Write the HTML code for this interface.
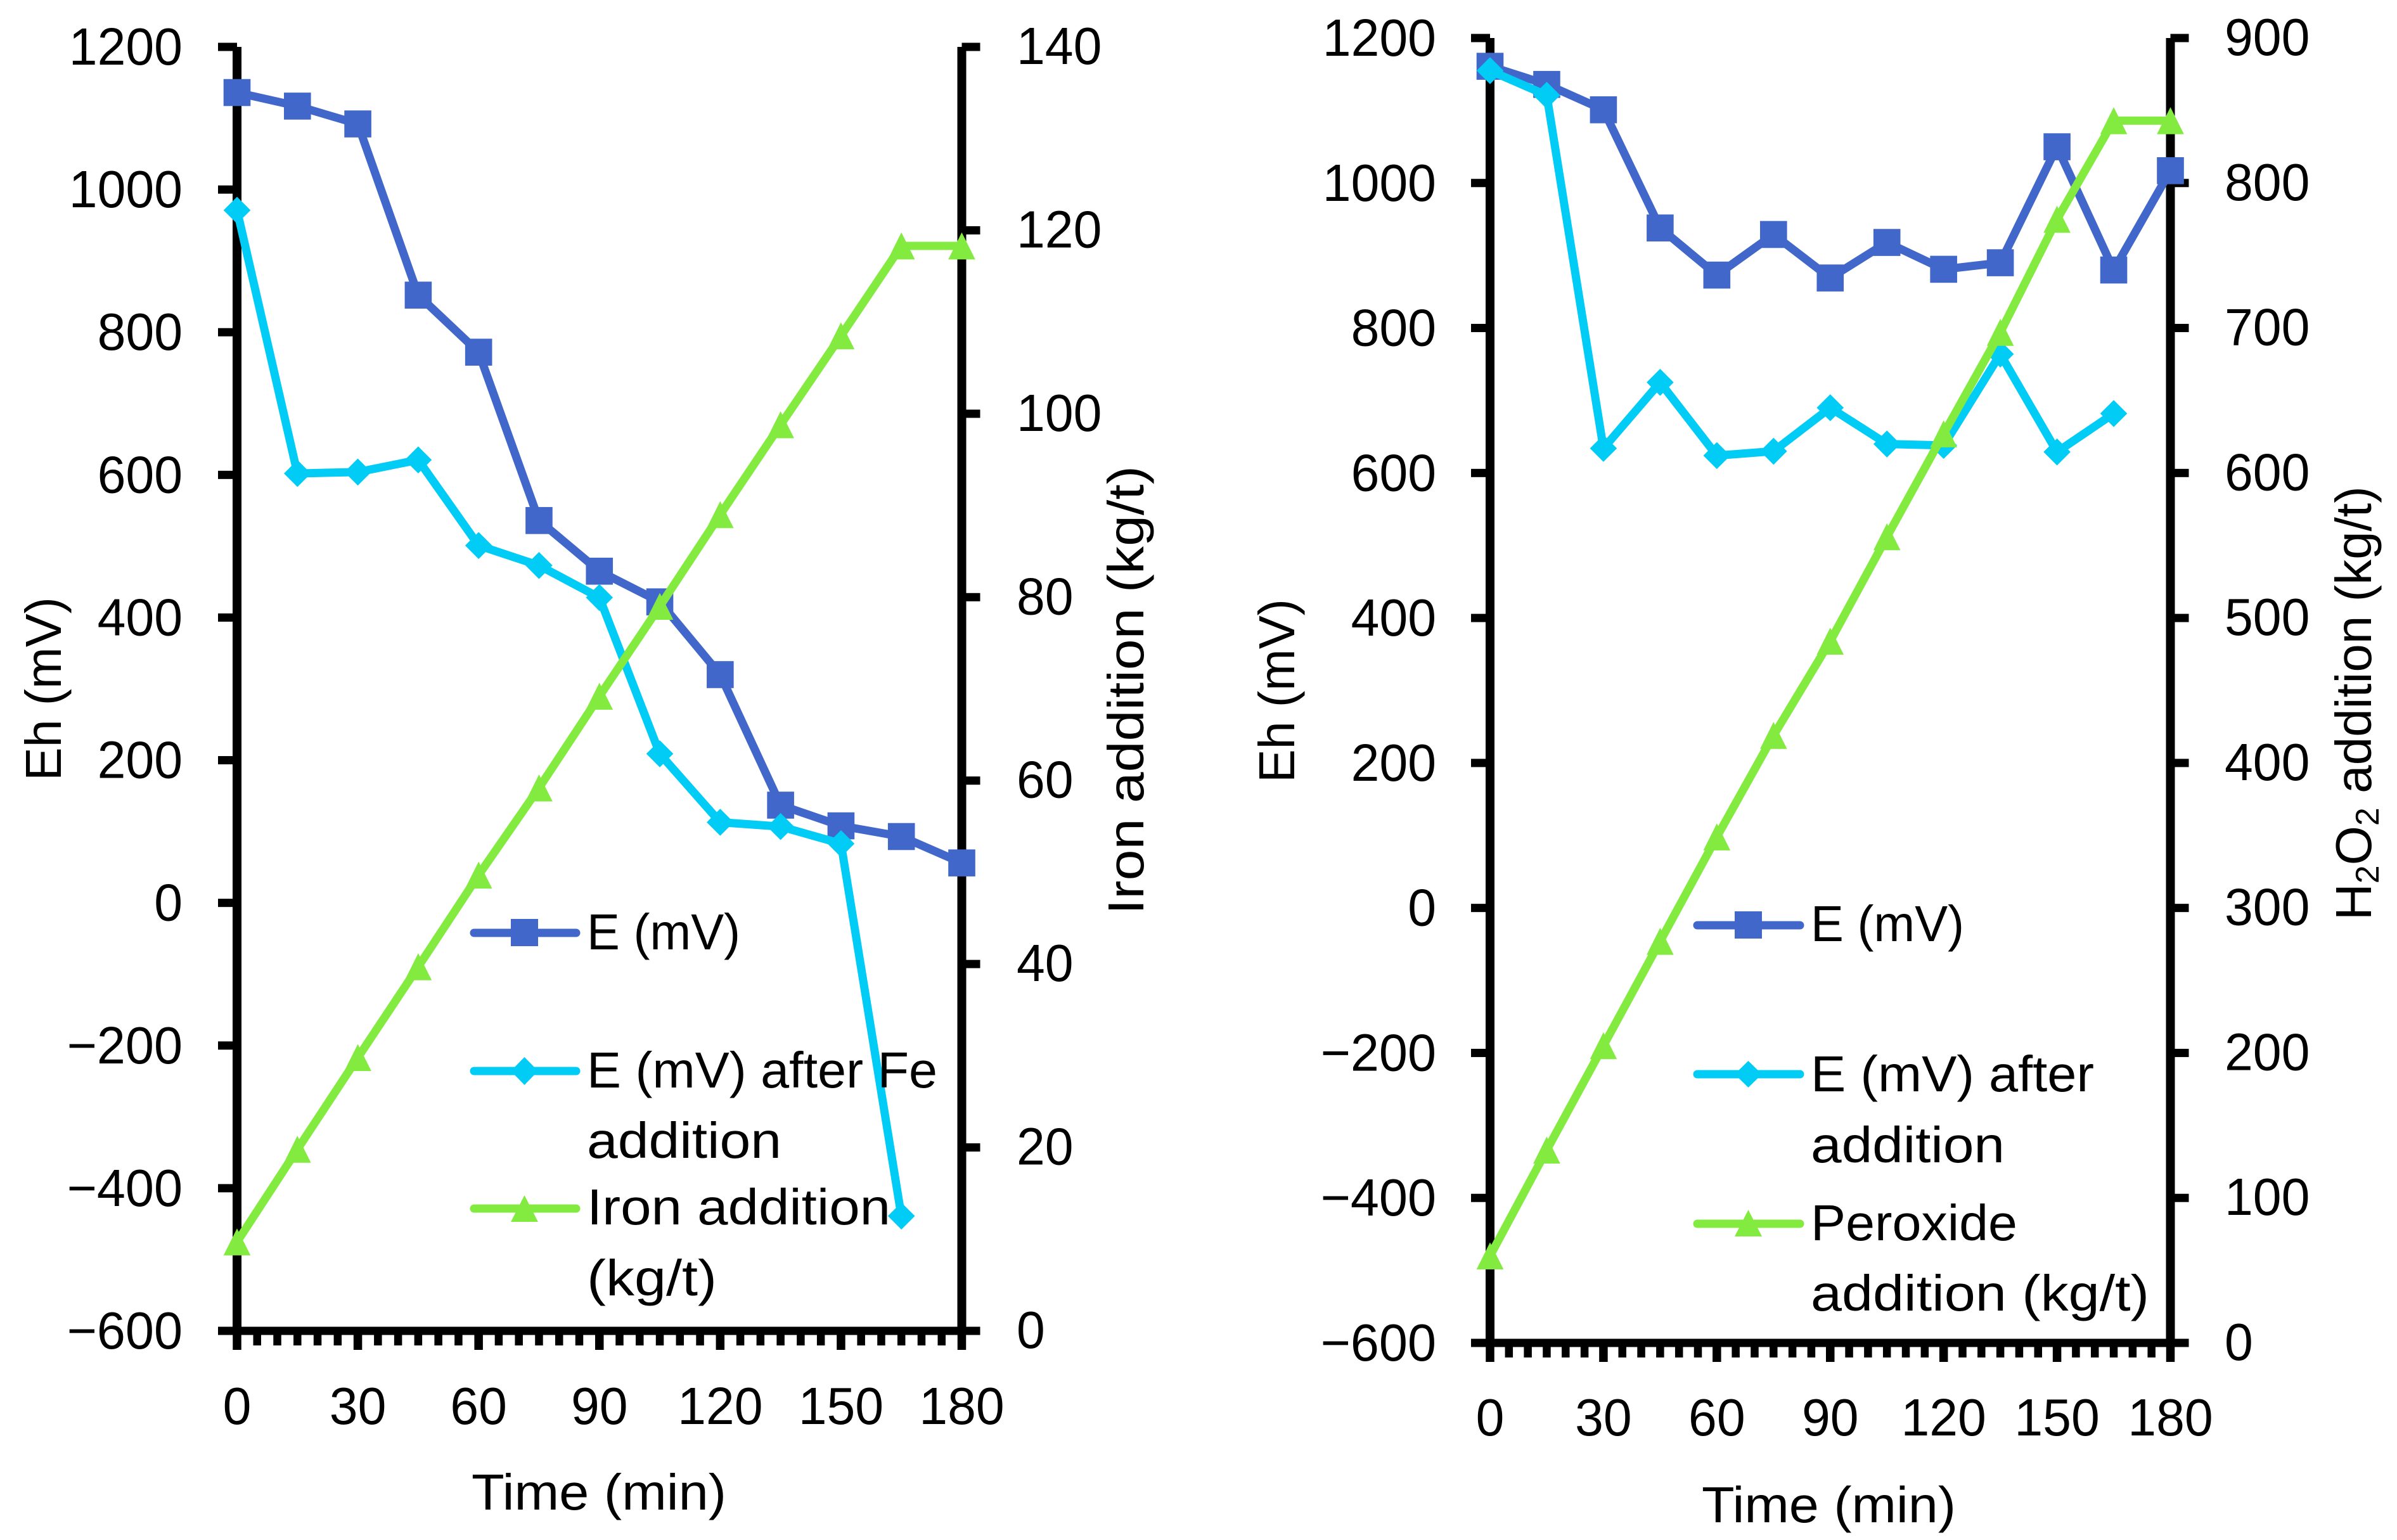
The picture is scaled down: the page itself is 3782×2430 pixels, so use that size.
<!DOCTYPE html>
<html lang="en">
<head>
<meta charset="utf-8">
<title>Eh and reagent addition over time</title>
<style>
html,body{margin:0;padding:0;background:#fff}
svg{display:block}
text{font-family:"Liberation Sans",sans-serif;font-size:80px;fill:#000}
text.tick{font-size:83px}
</style>
</head>
<body>
<svg id="figure" xmlns="http://www.w3.org/2000/svg" width="3782" height="2430" viewBox="0 0 3782 2430">
<rect x="0" y="0" width="3782" height="2430" fill="#fff"/>
<g id="left-chart"></g>
<g id="right-chart"></g>

<g>
<text x="744" y="2382" textLength="402" lengthAdjust="spacingAndGlyphs">Time (min)</text>
<text transform="translate(96,1232) rotate(-90)" textLength="290" lengthAdjust="spacingAndGlyphs">Eh (mV)</text>
<text transform="translate(1804,1443) rotate(-90)" textLength="708" lengthAdjust="spacingAndGlyphs">Iron addition (kg/t)</text>
</g>
<g>
<text x="2685" y="2402" textLength="401" lengthAdjust="spacingAndGlyphs">Time (min)</text>
<text transform="translate(2042,1235) rotate(-90)" textLength="290" lengthAdjust="spacingAndGlyphs">Eh (mV)</text>
<text transform="translate(3741,1452) rotate(-90)">H<tspan font-size="52" style="font-size:52px" dy="12">2</tspan><tspan dy="-12">O</tspan><tspan font-size="52" style="font-size:52px" dy="12">2</tspan><tspan dy="-12"> addition (kg/t)</tspan></text>
</g>

<g>
<g>
<line x1="748" y1="1472" x2="909" y2="1472" stroke="#4267CB" stroke-width="13" stroke-linecap="round"/>
<rect x="806" y="1450" width="43" height="43" fill="#4267CB"/>
<text x="926" y="1498" textLength="242" lengthAdjust="spacingAndGlyphs">E (mV)</text>
</g>
<g>
<line x1="748" y1="1690" x2="909" y2="1690" stroke="#00CCF6" stroke-width="13" stroke-linecap="round"/>
<polygon points="806,1690 827.5,1668 849,1690 827.5,1712" fill="#00CCF6"/>
<text x="926" y="1716" textLength="553" lengthAdjust="spacingAndGlyphs">E (mV) after Fe</text>
<text x="926" y="1827" textLength="307" lengthAdjust="spacingAndGlyphs">addition</text>
</g>
<g>
<line x1="748" y1="1907" x2="909" y2="1907" stroke="#83EB3F" stroke-width="13" stroke-linecap="round"/>
<polygon points="827.5,1886 849,1928 806,1928" fill="#83EB3F"/>
<text x="926" y="1932" textLength="479" lengthAdjust="spacingAndGlyphs">Iron addition</text>
<text x="926" y="2044" textLength="205" lengthAdjust="spacingAndGlyphs">(kg/t)</text>
</g>
</g>

<g>
<g>
<line x1="2678" y1="1460" x2="2840" y2="1460" stroke="#4267CB" stroke-width="13" stroke-linecap="round"/>
<rect x="2737" y="1438" width="43" height="43" fill="#4267CB"/>
<text x="2857" y="1485" textLength="242" lengthAdjust="spacingAndGlyphs">E (mV)</text>
</g>
<g>
<line x1="2678" y1="1695" x2="2840" y2="1695" stroke="#00CCF6" stroke-width="13" stroke-linecap="round"/>
<polygon points="2737,1695 2758.5,1674 2780,1695 2758.5,1716" fill="#00CCF6"/>
<text x="2857" y="1722" textLength="447" lengthAdjust="spacingAndGlyphs">E (mV) after</text>
<text x="2857" y="1834" textLength="306" lengthAdjust="spacingAndGlyphs">addition</text>
</g>
<g>
<line x1="2678" y1="1931" x2="2840" y2="1931" stroke="#83EB3F" stroke-width="13" stroke-linecap="round"/>
<polygon points="2758.5,1909 2780,1951 2737,1951" fill="#83EB3F"/>
<text x="2857" y="1957" textLength="326" lengthAdjust="spacingAndGlyphs">Peroxide</text>
<text x="2857" y="2068" textLength="534" lengthAdjust="spacingAndGlyphs">addition (kg/t)</text>
</g>
</g>
</svg>

<script>
// Shared axis tick labels
const eTicks = [1200, 1000, 800, 600, 400, 200, 0, -200, -400, -600];
const timeTicks = [0, 30, 60, 90, 120, 150, 180];
const ironTicks = [140, 120, 100, 80, 60, 40, 20, 0];
const peroxideTicks = [900, 800, 700, 600, 500, 400, 300, 200, 100, 0];

// Left chart values
const leftTimes = [0, 15, 30, 45, 60, 75, 90, 105, 120, 135, 150, 165, 180];
const leftE = [1136, 1117, 1092, 852, 772, 536, 465, 422, 320, 137, 108, 93, 56];
const leftEAfter = [971, 602, 604, 621, 501, 473, 428, 209, 113, 107, 83, -439];
const leftIron = [9.7, 19.8, 29.8, 39.7, 49.7, 59.2, 69.2, 79, 89, 98.8, 108.5, 118.3, 118.3];

// Right chart values
const rightTimes = [0, 15, 30, 45, 60, 75, 90, 105, 120, 135, 150, 165, 180];
const rightE = [1161, 1136, 1101, 938, 873, 929, 869, 918, 881, 890, 1050, 880, 1017];
const rightEAfter = [1155, 1121, 634, 725, 624, 630, 690, 640, 638, 764, 629, 682];
const rightPeroxide = [60, 133, 205, 277, 349, 419, 484, 556, 627, 697, 775, 843, 843];

const SVG_NS = 'http://www.w3.org/2000/svg';
const BLUE = '#4267CB';
const CYAN = '#00CCF6';
const GREEN = '#83EB3F';

function mk(parent, tag, attrs) {
  const node = document.createElementNS(SVG_NS, tag);
  for (const key in attrs) node.setAttribute(key, attrs[key]);
  parent.appendChild(node);
  return node;
}

function formatTick(v) {
  return v < 0 ? '\u2212' + Math.abs(v) : String(v);
}

function tickLength(v) {
  const digits = String(Math.abs(v)).length;
  return digits * 44.8 + (v < 0 ? 48 : 0);
}

function drawSeries(root, name, times, values, xScale, yScale, color, shape) {
  const group = mk(root, 'g', {});
  
  
  const pts = values.map(function (v, i) { return [xScale(times[i]), yScale(v)]; });
  const line = mk(group, 'polyline', {
    points: pts.map(function (p) { return p.join(','); }).join(' '),
    fill: 'none', stroke: color, 'stroke-width': 13, 'stroke-linejoin': 'round'
  });
  
  
  pts.forEach(function (p, i) {
    const r = 21.3;
    let mark;
    if (shape === 'square') {
      mark = mk(group, 'rect', { x: p[0] - r, y: p[1] - r, width: 2 * r, height: 2 * r, fill: color });
    } else if (shape === 'diamond') {
      mark = mk(group, 'polygon', {
        points: (p[0] - r) + ',' + p[1] + ' ' + p[0] + ',' + (p[1] - r) + ' ' + (p[0] + r) + ',' + p[1] + ' ' + p[0] + ',' + (p[1] + r),
        fill: color
      });
    } else {
      mark = mk(group, 'polygon', {
        points: p[0] + ',' + (p[1] - r) + ' ' + (p[0] + r) + ',' + (p[1] + r) + ' ' + (p[0] - r) + ',' + (p[1] + r),
        fill: color
      });
    }
    
    
  });
}

function drawAxes(root, cfg, yLeft, ySecond, xScale) {
  const axes = mk(root, 'g', { fill: '#000' });
  
  

  const leftLine = mk(axes, 'rect', { x: cfg.x0 - 7, y: cfg.yTop, width: 14, height: cfg.yBot - cfg.yTop });
  
  

  const rightLine = mk(axes, 'rect', { x: cfg.x1 - 7, y: cfg.yTop, width: 14, height: cfg.yBot - cfg.yTop });
  
  

  const bottomLine = mk(axes, 'rect', { x: cfg.x0 - 30, y: cfg.yBot - 6.5, width: cfg.x1 - cfg.x0 + 59, height: 13 });
  
  

  eTicks.forEach(function (v) {
    const y = yLeft(v);
    const tick = mk(axes, 'rect', { x: cfg.x0 - 30, y: y - 6.5, width: 30, height: 13 });
    
    
    const label = mk(root, 'text', { class: 'tick', x: cfg.leftLabelEnd, y: y + 28, 'text-anchor': 'end', textLength: tickLength(v), lengthAdjust: 'spacingAndGlyphs' });
    label.textContent = formatTick(v);
    
    
  });

  cfg.secondTicks.forEach(function (v) {
    const y = ySecond(v);
    const tick = mk(axes, 'rect', { x: cfg.x1, y: y - 6.5, width: 29, height: 13 });
    
    
    const label = mk(root, 'text', { class: 'tick', x: cfg.rightLabelStart, y: y + 27, textLength: tickLength(v), lengthAdjust: 'spacingAndGlyphs' });
    label.textContent = formatTick(v);
    
    
  });

  for (let t = 0; t <= 180; t += 5) {
    const major = t % 30 === 0;
    const w = major ? 13.5 : 12.5;
    const tick = mk(axes, 'rect', { x: xScale(t) - w / 2, y: cfg.yBot, width: w, height: major ? 30 : 23 });
    
    
  }

  timeTicks.forEach(function (t) {
    const label = mk(root, 'text', { class: 'tick', x: xScale(t), y: cfg.xLabelY, 'text-anchor': 'middle', textLength: tickLength(t), lengthAdjust: 'spacingAndGlyphs' });
    label.textContent = formatTick(t);
    
    
  });
}

function drawChart(cfg) {
  const root = document.getElementById(cfg.id);
  const xScale = function (t) { return cfg.x0 + (t / 180) * (cfg.x1 - cfg.x0); };
  const yLeft = function (v) { return cfg.yTop + ((1200 - v) / 1800) * (cfg.yBot - cfg.yTop); };
  const ySecond = function (v) { return cfg.yBot - (v / cfg.secondMax) * (cfg.yBot - cfg.yTop); };
  drawAxes(root, cfg, yLeft, ySecond, xScale);
  drawSeries(root, 'e', cfg.times, cfg.e, xScale, yLeft, BLUE, 'square');
  drawSeries(root, 'e-after', cfg.times, cfg.after, xScale, yLeft, CYAN, 'diamond');
  drawSeries(root, 'addition', cfg.times, cfg.addition, xScale, ySecond, GREEN, 'triangle');
}

drawChart({
  id: 'left-chart', x0: 374, x1: 1517.5, yTop: 74, yBot: 2100,
  leftLabelEnd: 288, rightLabelStart: 1604, xLabelY: 2247,
  secondMax: 140, secondTicks: ironTicks,
  times: leftTimes, e: leftE, after: leftEAfter, addition: leftIron
});
drawChart({
  id: 'right-chart', x0: 2351, x1: 3424.5, yTop: 60, yBot: 2119,
  leftLabelEnd: 2266, rightLabelStart: 3510, xLabelY: 2265,
  secondMax: 900, secondTicks: peroxideTicks,
  times: rightTimes, e: rightE, after: rightEAfter, addition: rightPeroxide
});
</script>
</body>
</html>
